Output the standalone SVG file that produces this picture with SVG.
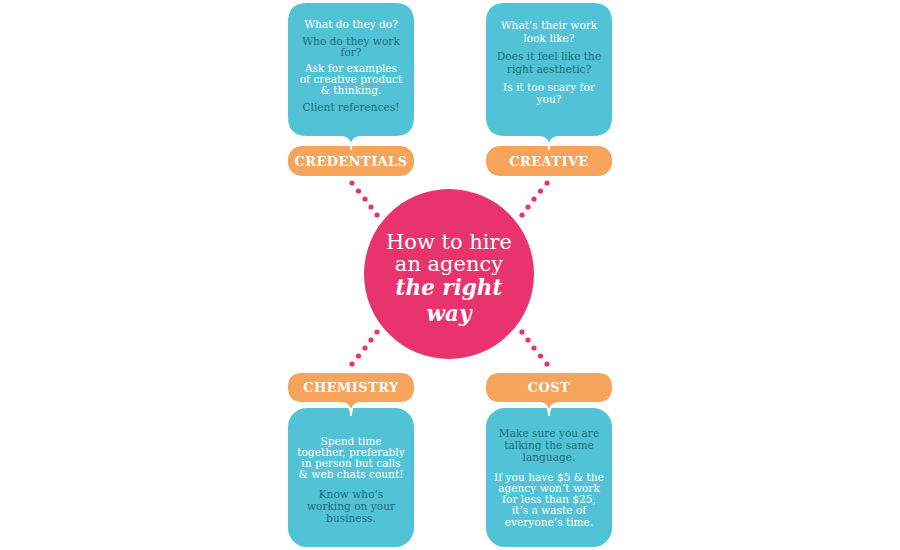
<svg xmlns="http://www.w3.org/2000/svg" width="900" height="550" viewBox="0 0 900 550">
<style>
.blue{fill:#52c3d6;stroke:#fff;stroke-width:2}
.orange{fill:#f6a45b;stroke:#fff;stroke-width:2}
.body{font-family:"DejaVu Serif","Liberation Serif",serif;font-size:10.6px;text-anchor:middle}
.w{fill:#ffffff}
.d{fill:#1d6b7a}
.lbl{font-family:"DejaVu Serif","Liberation Serif",serif;font-size:13px;font-weight:bold;fill:#fff;text-anchor:middle;letter-spacing:0.4px}
.dot{fill:#e8336c}
.title{font-family:"DejaVu Serif","Liberation Serif",serif;font-size:21px;fill:#fff;text-anchor:middle}
.em{font-weight:bold;font-style:italic;font-size:21.5px}
</style>
<rect width="900" height="550" fill="#fff"/>
<g id="connectors">
<circle class="dot" cx="352" cy="183" r="2.6"/><circle class="dot" cx="358.5" cy="191" r="2.6"/><circle class="dot" cx="365" cy="199" r="2.6"/><circle class="dot" cx="371" cy="207" r="2.6"/><circle class="dot" cx="377" cy="215" r="2.6"/>
<circle class="dot" cx="547" cy="183" r="2.6"/><circle class="dot" cx="540.5" cy="191" r="2.6"/><circle class="dot" cx="534" cy="199" r="2.6"/><circle class="dot" cx="528" cy="207" r="2.6"/><circle class="dot" cx="522" cy="215" r="2.6"/>
<circle class="dot" cx="377" cy="332" r="2.6"/><circle class="dot" cx="371" cy="340" r="2.6"/><circle class="dot" cx="365" cy="348" r="2.6"/><circle class="dot" cx="358.5" cy="356" r="2.6"/><circle class="dot" cx="352" cy="364" r="2.6"/>
<circle class="dot" cx="522" cy="332" r="2.6"/><circle class="dot" cx="528" cy="340" r="2.6"/><circle class="dot" cx="534" cy="348" r="2.6"/><circle class="dot" cx="540.5" cy="356" r="2.6"/><circle class="dot" cx="547" cy="364" r="2.6"/>
</g>
<g id="center">
<circle cx="449" cy="274" r="85" fill="#e8336c"/>
<text class="title" x="449" y="249">How to hire</text>
<text class="title" x="449" y="271">an agency</text>
<text class="title em" x="449" y="295">the right</text>
<text class="title em" x="449" y="321">way</text>
</g>
<g id="credentials">
<rect class="orange" x="287" y="145" width="128" height="32" rx="15"/>
<path class="blue" d="M307 2H395Q415 2 415 22V117Q415 137 395 137H361Q351 137 351 150Q351 137 341 137H307Q287 137 287 117V22Q287 2 307 2Z"/>
<text class="lbl" x="351" y="166">CREDENTIALS</text>
<text class="body w" x="351" y="28">What do they do?</text>
<text class="body d" x="351" y="45">Who do they work</text>
<text class="body d" x="351" y="56">for?</text>
<text class="body w" x="351" y="72">Ask for examples</text>
<text class="body w" x="351" y="83">of creative product</text>
<text class="body w" x="351" y="94">&amp; thinking.</text>
<text class="body d" x="351" y="111">Client references!</text>
</g>
<g id="creative">
<rect class="orange" x="485" y="145" width="128" height="32" rx="15"/>
<path class="blue" d="M505 2H593Q613 2 613 22V117Q613 137 593 137H559Q549 137 549 150Q549 137 539 137H505Q485 137 485 117V22Q485 2 505 2Z"/>
<text class="lbl" x="549" y="166">CREATIVE</text>
<text class="body w" x="549" y="29">What’s their work</text>
<text class="body w" x="549" y="42">look like?</text>
<text class="body d" x="549" y="60">Does it feel like the</text>
<text class="body d" x="549" y="73">right aesthetic?</text>
<text class="body w" x="549" y="91">Is it too scary for</text>
<text class="body w" x="549" y="103">you?</text>
</g>
<g id="chemistry">
<rect class="blue" x="287" y="407" width="128" height="141" rx="20"/>
<path class="orange" d="M302 372H400Q415 372 415 387.5Q415 403 400 403H361Q351 403 351 416Q351 403 341 403H302Q287 403 287 387.5Q287 372 302 372Z"/>
<text class="lbl" x="351" y="392">CHEMISTRY</text>
<text class="body w" x="351" y="445">Spend time</text>
<text class="body w" x="351" y="456">together, preferably</text>
<text class="body w" x="351" y="467">in person but calls</text>
<text class="body w" x="351" y="478">&amp; web chats count!</text>
<text class="body d" x="351" y="498">Know who’s</text>
<text class="body d" x="351" y="510">working on your</text>
<text class="body d" x="351" y="522">business.</text>
</g>
<g id="cost">
<rect class="blue" x="485" y="407" width="128" height="141" rx="20"/>
<path class="orange" d="M500 372H598Q613 372 613 387.5Q613 403 598 403H559Q549 403 549 416Q549 403 539 403H500Q485 403 485 387.5Q485 372 500 372Z"/>
<text class="lbl" x="549" y="392">COST</text>
<text class="body d" x="549" y="437">Make sure you are</text>
<text class="body d" x="549" y="449">talking the same</text>
<text class="body d" x="549" y="461">language.</text>
<text class="body w" x="549" y="481">If you have $5 &amp; the</text>
<text class="body w" x="549" y="492">agency won’t work</text>
<text class="body w" x="549" y="503">for less than $25,</text>
<text class="body w" x="549" y="514">it’s a waste of</text>
<text class="body w" x="549" y="526">everyone’s time.</text>
</g>
</svg>
